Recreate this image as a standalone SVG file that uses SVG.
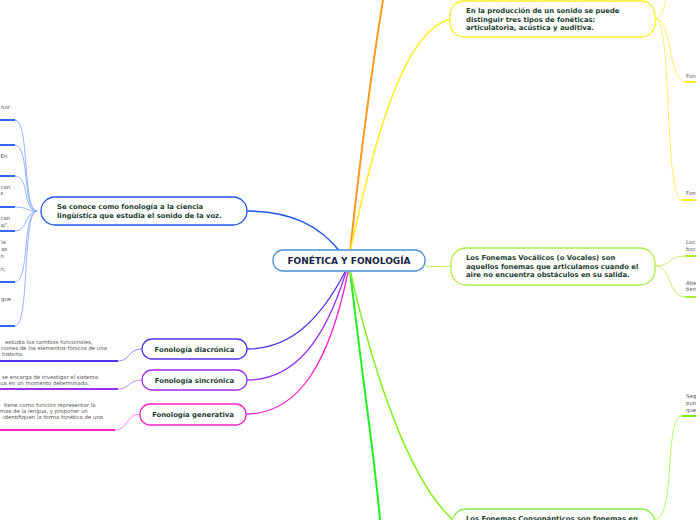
<svg xmlns="http://www.w3.org/2000/svg" width="696" height="520" viewBox="0 0 696 520">
<style>
.nt{font-family:"DejaVu Sans",Verdana,sans-serif;font-weight:bold;font-size:6.85px;fill:#1b3d2f}
.ct{font-family:"DejaVu Sans",Verdana,sans-serif;font-weight:bold;font-size:9px;fill:#16264a}
.st{font-family:"DejaVu Sans",Verdana,sans-serif;font-size:5.4px;fill:#555}
.box{fill:#fff;stroke-width:1.3}
.c{fill:none}
</style>
<rect width="696" height="520" fill="#fff"/>
<g id="connectors">
  <path class="c" d="M350 252 C360 160 370 80 383 0" stroke="#ff9922" stroke-width="2"/>
  <path class="c" d="M350 252 C370 160 400 30 451 19" stroke="#ffee22" stroke-width="1.5"/>
  <path class="c" d="M425 266 C435 267 440 267 451 266" stroke="#ccee66" stroke-width="1.2"/>
  <path class="c" d="M350 270 C365 400 375 460 380 520" stroke="#22ee22" stroke-width="2"/>
  <path class="c" d="M350 270 C375 380 410 480 452 519" stroke="#88ee22" stroke-width="1.5"/>
  <path class="c" d="M342 254 C320 225 290 211 247 211" stroke="#2255ee" stroke-width="1.5"/>
  <path class="c" d="M345 272 C320 320 290 349 247 349" stroke="#5533ee" stroke-width="1.3"/>
  <path class="c" d="M346 272 C325 340 295 380 247 380" stroke="#9933ee" stroke-width="1.3"/>
  <path class="c" d="M348 272 C330 360 300 414 246 414" stroke="#ff22cc" stroke-width="1.3"/>
  <g stroke="#88aaff" stroke-width="0.9" fill="none">
    <path d="M15 120 C30 120 22 211 37 211"/>
    <path d="M15 145 C30 145 22 211 37 211"/>
    <path d="M15 176 C30 176 22 211 37 211"/>
    <path d="M15 207 C28 207 25 211 37 211"/>
    <path d="M15 231 C28 231 25 211 37 211"/>
    <path d="M15 282 C30 282 22 211 37 211"/>
    <path d="M15 326 C30 326 22 211 37 211"/>
  </g>
  <g stroke="#3366ff" stroke-width="2">
    <line x1="0" y1="120" x2="15" y2="120"/>
    <line x1="0" y1="145" x2="15" y2="145"/>
    <line x1="0" y1="176" x2="15" y2="176"/>
    <line x1="0" y1="207" x2="15" y2="207"/>
    <line x1="0" y1="231" x2="15" y2="231"/>
    <line x1="0" y1="282" x2="15" y2="282"/>
    <line x1="0" y1="326" x2="15" y2="326"/>
  </g>
  <path class="c" d="M118 361 C130 361 128 349 142 349" stroke="#9988ff" stroke-width="1"/>
  <line x1="0" y1="361" x2="118" y2="361" stroke="#5533ee" stroke-width="2"/>
  <path class="c" d="M118 389 C130 389 128 380 142 380" stroke="#cc88ff" stroke-width="1"/>
  <line x1="0" y1="389" x2="118" y2="389" stroke="#9933ee" stroke-width="2"/>
  <path class="c" d="M115 430 C128 430 126 414 140 414" stroke="#ff88ee" stroke-width="1"/>
  <line x1="0" y1="430" x2="115" y2="430" stroke="#ff22cc" stroke-width="2"/>
  <g stroke="#ffee66" stroke-width="1" fill="none">
    <path d="M656 19 C662 15 664 8 666 0"/>
    <path d="M656 19 C672 19 668 82 686 82"/>
    <path d="M656 19 C672 19 664 200 682 200"/>
  </g>
  <line x1="686" y1="82" x2="696" y2="82" stroke="#ffee22" stroke-width="2"/>
  <line x1="682" y1="200" x2="696" y2="200" stroke="#ffee22" stroke-width="2"/>
  <g stroke="#ccee66" stroke-width="1" fill="none">
    <path d="M655 266 C672 266 668 256 685 256"/>
    <path d="M655 266 C672 266 668 297 685 297"/>
  </g>
  <line x1="685" y1="256" x2="696" y2="256" stroke="#aaee33" stroke-width="2"/>
  <line x1="685" y1="297" x2="696" y2="297" stroke="#aaee33" stroke-width="2"/>
  <path class="c" d="M655 519 C676 519 664 416 682 416" stroke="#aaff66" stroke-width="1"/>
  <line x1="682" y1="416" x2="696" y2="416" stroke="#77ee22" stroke-width="2"/>
</g>
<g id="center">
  <rect class="box" x="273" y="250" width="152" height="21" rx="10" stroke="#4a90d9"/>
  <text class="ct" x="349" y="264.2" text-anchor="middle">FONÉTICA Y FONOLOGÍA</text>
</g>
<g id="n-seconoce">
  <rect class="box" x="41" y="197" width="206" height="28" rx="14" stroke="#2255ee"/>
  <text class="nt" x="57" y="209">Se conoce como fonología a la ciencia</text>
  <text class="nt" x="57" y="218">lingüística que estudia el sonido de la voz.</text>
</g>
<g id="n-left-subs">
  <text class="st" x="1" y="109">nor</text>
  <text class="st" x="0.5" y="158">En</text>
  <text class="st" x="0.5" y="189">can</text>
  <text class="st" x="0.5" y="195">s</text>
  <text class="st" x="0.5" y="220">can</text>
  <text class="st" x="0.5" y="227">a/'.</text>
  <text class="st" x="1" y="244">la</text>
  <text class="st" x="1" y="251">as</text>
  <text class="st" x="0.5" y="258">n</text>
  <text class="st" x="0.5" y="271">n,</text>
  <text class="st" x="1" y="301">gue</text>
</g>
<g id="n-diacronica">
  <rect class="box" x="142" y="339" width="105" height="20" rx="10" stroke="#5533ee"/>
  <text class="nt" x="194.5" y="351.5" text-anchor="middle">Fonología diacrónica</text>
  <text class="st" x="5" y="344">estudia los cambios funcionales,</text>
  <text class="st" x="107" y="350" text-anchor="end">ciones de los elementos fónicos de una</text>
  <text class="st" x="2" y="356">historia.</text>
</g>
<g id="n-sincronica">
  <rect class="box" x="142" y="370" width="105" height="20" rx="10" stroke="#9933ee"/>
  <text class="nt" x="194.5" y="382.5" text-anchor="middle">Fonología sincrónica</text>
  <text class="st" x="2" y="379">se encarga de investigar el sistema</text>
  <text class="st" x="0" y="385">ua en un momento determinado.</text>
</g>
<g id="n-generativa">
  <rect class="box" x="140" y="404" width="106" height="21" rx="10" stroke="#ff22cc"/>
  <text class="nt" x="193" y="417" text-anchor="middle">Fonología generativa</text>
  <text class="st" x="4" y="407">tiene como función representar la</text>
  <text class="st" x="0" y="413">mas de la lengua, y proponer un</text>
  <text class="st" x="3" y="419">identifiquen la forma fonética de una</text>
</g>
<g id="n-produccion">
  <rect class="box" x="450" y="1" width="205" height="36" rx="14" stroke="#ffee22"/>
  <text class="nt" x="466" y="13">En la producción de un sonido se puede</text>
  <text class="nt" x="466" y="22">distinguir tres tipos de fonéticas:</text>
  <text class="nt" x="466" y="30">articulatoria, acústica y auditiva.</text>
  <text class="st" x="686" y="78">Fon</text>
  <text class="st" x="686" y="195">Fon</text>
</g>
<g id="n-vocalicos">
  <rect class="box" x="451" y="248" width="204" height="37" rx="15" stroke="#aaee44"/>
  <text class="nt" x="466" y="260">Los Fonemas Vocálicos (o Vocales) son</text>
  <text class="nt" x="466" y="269">aquellos fonemas que articulamos cuando el</text>
  <text class="nt" x="466" y="277">aire no encuentra obstáculos en su salida.</text>
  <text class="st" x="686" y="244">Loc</text>
  <text class="st" x="686" y="251">boc</text>
  <text class="st" x="686" y="285">Abe</text>
  <text class="st" x="686" y="291">tien</text>
</g>
<g id="n-consonanticos">
  <rect class="box" x="452" y="509" width="203" height="30" rx="14" stroke="#88ee44"/>
  <text class="nt" x="466" y="521">Los Fonemas Consonánticos son fonemas en</text>
  <text class="st" x="686" y="398">Seg</text>
  <text class="st" x="686" y="405">pun</text>
  <text class="st" x="686" y="412">que</text>
</g>
</svg>
